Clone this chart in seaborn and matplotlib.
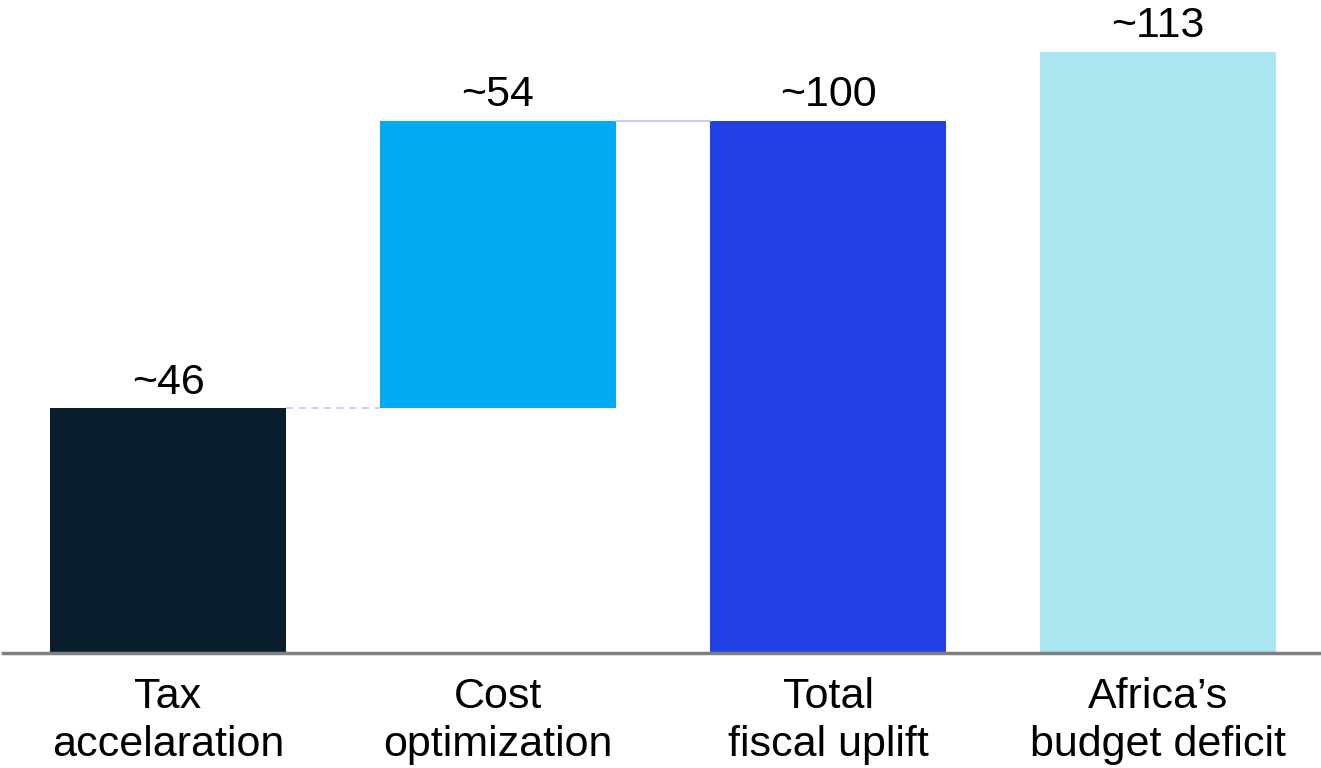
import matplotlib
matplotlib.use("Agg")
import matplotlib.pyplot as plt
import seaborn as sns
import numpy as np

categories = ["Tax\naccelaration", "Cost\noptimization", "Total\nfiscal uplift", "Africa\u2019s\nbudget deficit"]
values = [46, 54, 100, 113]
is_step = [True, True, False, False]   # waterfall steps vs. totals
labels = ["~46", "~54", "~100", "~113"]
colors = ["#081E2D", "#00AAF3", "#2141E6", "#A9E6F0"]

# compute bottoms of waterfall
bottoms = []
running = 0
for v, s in zip(values, is_step):
    if s:
        bottoms.append(running)
        running += v
    else:
        bottoms.append(0)
tops = [b + v for b, v in zip(bottoms, values)]

sns.set_theme(style="white")
plt.rcParams["font.family"] = ["Liberation Sans", "DejaVu Sans"]

fig = plt.figure(figsize=(13.21, 7.68), dpi=100)
ax = fig.add_axes([3 / 1321, 115 / 768, 1320 / 1321, 653 / 768])

width = 0.715
sns.barplot(x=categories, y=values, hue=categories, palette=colors,
            width=width, legend=False, ax=ax, saturation=1, linewidth=0)
for p, b, v in zip(ax.patches, bottoms, values):
    p.set_y(b)
    p.set_height(v)

# connectors
conn_color = "#C3CEF8"
ax.plot([0 + width / 2, 1 - width / 2], [tops[0], tops[0]], color=conn_color,
        lw=1.3, ls=(0, (4, 3)), zorder=1)
ax.plot([1 + width / 2, 2 - width / 2], [tops[1], tops[1]], color=conn_color,
        lw=1.5, zorder=1)

for i, (t, lab) in enumerate(zip(tops, labels)):
    ax.annotate(lab, (i, t), xytext=(0, 4), textcoords="offset points",
                ha="center", va="bottom", fontsize=31, color="#000000")

ax.set_xlim(-0.5, 3.5)
ax.set_ylim(0, 122.7)
ax.set_yticks([])
ax.set_ylabel("")
ax.set_xlabel("")
for s in ["top", "right", "left"]:
    ax.spines[s].set_visible(False)
ax.spines["bottom"].set_color("#7F7F7F")
ax.spines["bottom"].set_linewidth(2.5)
ax.tick_params(axis="x", length=0, pad=17, labelsize=31, labelcolor="#000000")
for t in ax.get_xticklabels():
    t.set_linespacing(1.27)

fig.savefig("out.png", dpi=100, facecolor="white")
